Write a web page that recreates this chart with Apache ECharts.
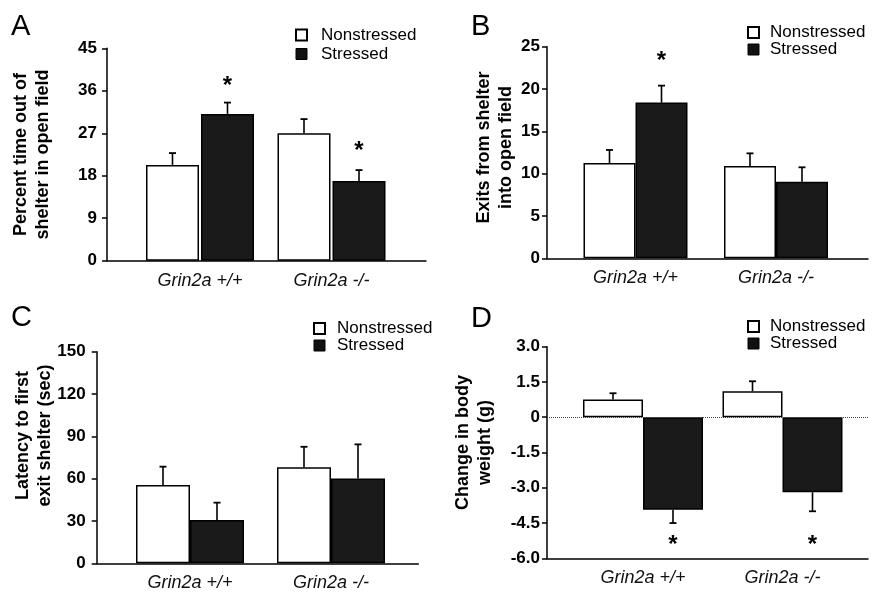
<!DOCTYPE html>
<html>
<head>
<meta charset="utf-8">
<script src="https://cdn.jsdelivr.net/npm/echarts@6/dist/echarts.min.js"></script>
<style>
html,body{margin:0;padding:0;background:#fff;}
#chart{width:873px;height:593px;}
</style>
</head>
<body>
<div id="chart"></div>
<script>
// ---------- DATA ----------
const categories = ['Grin2a +/+', 'Grin2a -/-'];
const seriesNames = ['Nonstressed', 'Stressed'];

// Panel A: Percent time out of shelter in open field
const aNon = [20.3, 27.0];
const aNonErr = [2.5, 3.0];
const aStr = [31.1, 16.9];
const aStrErr = [2.4, 2.3];
const aStars = [37.9, 24.2];

// Panel B: Exits from shelter into open field
const bNon = [11.25, 10.9];
const bNonErr = [1.55, 1.5];
const bStr = [18.4, 9.05];
const bStrErr = [2.0, 1.7];
const bStars = [23.8, null];

// Panel C: Latency to first exit shelter (sec)
const cNon = [55.5, 68.0];
const cNonErr = [13.0, 14.6];
const cStr = [30.7, 60.2];
const cStrErr = [12.3, 24.1];
const cStars = [null, null];

// Panel D: Change in body weight (g)
const dNon = [0.75, 1.11];
const dNonErr = [0.27, 0.42];
const dStr = [-3.93, -3.19];
const dStrErr = [0.57, 0.81];
const dStars = [-5.25, -5.25];

// axis ranges / tick intervals
const aAxis = {min: 0, max: 45, interval: 9};
const bAxis = {min: 0, max: 25, interval: 5};
const cAxis = {min: 0, max: 150, interval: 30};
const dAxis = {min: -6, max: 3, interval: 1.5};

const panelLetters = ['A', 'B', 'C', 'D'];
const yTitles = [
  'Percent time out of\nshelter in open field',
  'Exits from shelter\ninto open field',
  'Latency to first\nexit shelter (sec)',
  'Change in body\nweight (g)'
];

// ---------- LAYOUT / STYLE ----------
const FONT = "'Liberation Sans', Arial, Helvetica, sans-serif";
const panels = [
  {letter: panelLetters[0], title: yTitles[0], axis: aAxis, non: aNon, nonErr: aNonErr, str: aStr, strErr: aStrErr, stars: aStars,
   outer: {left: 107, top: 48.3, width: 319, height: 212.4},
   inner: {left: 134.25, width: 263},
   barWidth: 53, gapPx: 2, labelMargin: 10, nameGap: 53, namePad: 0,
   letterPos: {left: 11, top: 12},
   legend: {left: 295, top: 26.5, gap: 2, pad: 9, lh: 17}, zeroLine: false},
  {letter: panelLetters[1], title: yTitles[1], axis: bAxis, non: bNon, nonErr: bNonErr, str: bStr, strErr: bStrErr, stars: bStars,
   outer: {left: 547, top: 46.7, width: 321, height: 211.6},
   inner: {left: 565.25, width: 281},
   barWidth: 52, gapPx: 0, labelMargin: 7, nameGap: 30, namePad: 10,
   letterPos: {left: 471, top: 12},
   legend: {left: 747, top: 24, gap: 0, pad: 6, lh: 17}, zeroLine: false},
  {letter: panelLetters[2], title: yTitles[2], axis: cAxis, non: cNon, nonErr: cNonErr, str: cStr, strErr: cStrErr, stars: cStars,
   outer: {left: 96.7, top: 351.7, width: 321.6, height: 211.6},
   inner: {left: 119.5, width: 282},
   barWidth: 54, gapPx: 0, labelMargin: 11, nameGap: 41, namePad: 44,
   letterPos: {left: 11, top: 303},
   legend: {left: 313, top: 320, gap: 0, pad: 7, lh: 16.5}, zeroLine: false},
  {letter: panelLetters[3], title: yTitles[3], axis: dAxis, non: dNon, nonErr: dNonErr, str: dStr, strErr: dStrErr, stars: dStars,
   outer: {left: 547, top: 346.7, width: 321, height: 211.6},
   inner: {left: 573.25, width: 279},
   barWidth: 60, gapPx: 0, labelMargin: 7, nameGap: 51, namePad: 20,
   letterPos: {left: 471, top: 304},
   legend: {left: 747, top: 318, gap: 0, pad: 6, lh: 16}, zeroLine: true}
];

const grid = [], xAxis = [], yAxis = [], series = [], legend = [], title = [];

function fmt(v, axis) {
  if (axis.interval % 1 !== 0) return v === 0 ? '0' : v.toFixed(1);
  return String(v);
}

panels.forEach((p, i) => {
  const go = 2 * i, gi = 2 * i + 1;
  grid.push({left: p.outer.left, top: p.outer.top, width: p.outer.width, height: p.outer.height});
  grid.push({left: p.inner.left, top: p.outer.top, width: p.inner.width, height: p.outer.height});

  xAxis.push({gridIndex: go, type: 'value', min: 0, max: 1,
    axisLine: {show: true, onZero: false, lineStyle: {color: '#000', width: 1.5}},
    axisTick: {show: false}, axisLabel: {show: false}, splitLine: {show: false}});
  xAxis.push({gridIndex: gi, type: 'category', data: categories,
    axisLine: {show: false}, axisTick: {show: false}, splitLine: {show: false},
    axisLabel: {margin: 11, fontSize: 18, fontStyle: 'italic', color: '#111', fontFamily: FONT}});

  yAxis.push({gridIndex: go, type: 'value', min: p.axis.min, max: p.axis.max, interval: p.axis.interval,
    axisLine: {show: true, lineStyle: {color: '#000', width: 1.5}},
    axisTick: {show: true, inside: false, length: 5, lineStyle: {color: '#000', width: 1.5}},
    splitLine: {show: false},
    axisLabel: {margin: p.labelMargin, fontSize: 17, fontWeight: 'bold', color: '#000', fontFamily: FONT,
      formatter: v => fmt(v, p.axis)},
    name: p.title, nameLocation: 'middle', nameGap: p.nameGap, nameRotate: 90, nameMoveOverlap: false,
    nameTextStyle: {fontSize: 18, fontWeight: 'bold', color: '#000', fontFamily: FONT, lineHeight: 22,
      padding: [0, 0, 0, p.namePad]}});
  yAxis.push({gridIndex: gi, type: 'value', min: p.axis.min, max: p.axis.max, interval: p.axis.interval, show: false});

  const gapFrac = p.gapPx / p.barWidth;
  const off = p.barWidth * (1 + gapFrac) / 2;

  const mkBar = (name, vals, fill) => ({
    name: name, type: 'bar', xAxisIndex: gi, yAxisIndex: gi,
    data: vals, barWidth: p.barWidth, barGap: (gapFrac * 100) + '%',
    itemStyle: {color: fill, borderColor: '#000', borderWidth: 1.5},
    silent: true, z: 2
  });
  series.push(mkBar(seriesNames[0], p.non, '#ffffff'));
  series.push(mkBar(seriesNames[1], p.str, '#1a1a1a'));

  const mkErr = (vals, errs, stars, dx) => ({
    type: 'custom', xAxisIndex: gi, yAxisIndex: gi, z: 5, silent: true,
    data: vals.map((v, k) => [k, v, errs[k], stars[k] == null ? NaN : stars[k]]),
    renderItem: function (params, api) {
      const k = api.value(0), v = api.value(1), e = api.value(2), s = api.value(3);
      const sign = v < 0 ? -1 : 1;
      const p0 = api.coord([k, v]);
      const p1 = api.coord([k, v + sign * e]);
      const x = p0[0] + dx;
      const children = [
        {type: 'line', shape: {x1: x, y1: p0[1], x2: x, y2: p1[1]}, style: {stroke: '#000', lineWidth: 1.6}},
        {type: 'line', shape: {x1: x - 3.5, y1: p1[1], x2: x + 3.5, y2: p1[1]}, style: {stroke: '#000', lineWidth: 1.8}}
      ];
      if (!isNaN(s)) {
        const ps = api.coord([k, s]);
        children.push({type: 'text', style: {text: '*', x: x, y: ps[1] + 5, align: 'center', verticalAlign: 'middle',
          font: 'bold 24px ' + FONT, fill: '#000'}});
      }
      return {type: 'group', children: children};
    }
  });
  series.push(mkErr(p.non, p.nonErr, [null, null], -off));
  series.push(mkErr(p.str, p.strErr, p.stars, off));

  if (p.zeroLine) {
    series.push({type: 'line', xAxisIndex: go, yAxisIndex: go, data: [], silent: true,
      markLine: {silent: true, symbol: ['none', 'none'], label: {show: false},
        lineStyle: {type: 'dotted', color: '#444', width: 1}, data: [{yAxis: 0}]}});
  }

  legend.push({
    left: p.legend.left, top: p.legend.top, orient: 'vertical', padding: 0,
    itemWidth: 11, itemHeight: 11, itemGap: p.legend.gap, selectedMode: false,
    icon: 'rect',
    textStyle: {fontSize: 17, color: '#000', fontFamily: FONT, lineHeight: p.legend.lh, padding: [0, 0, 0, p.legend.pad]},
    data: [
      {name: seriesNames[0], itemStyle: {color: '#fff', borderColor: '#000', borderWidth: 2}},
      {name: seriesNames[1], itemStyle: {color: '#111', borderColor: '#000', borderWidth: 1}}
    ]
  });

  title.push({text: p.letter, left: p.letterPos.left, top: p.letterPos.top, padding: 0,
    textStyle: {fontSize: 29, fontWeight: 'normal', color: '#000', fontFamily: FONT}});
});

const chart = echarts.init(document.getElementById('chart'), null, {renderer: 'canvas'});
chart.setOption({
  animation: false,
  backgroundColor: '#fff',
  title: title,
  grid: grid,
  xAxis: xAxis,
  yAxis: yAxis,
  legend: legend,
  series: series
});
</script>
</body>
</html>
